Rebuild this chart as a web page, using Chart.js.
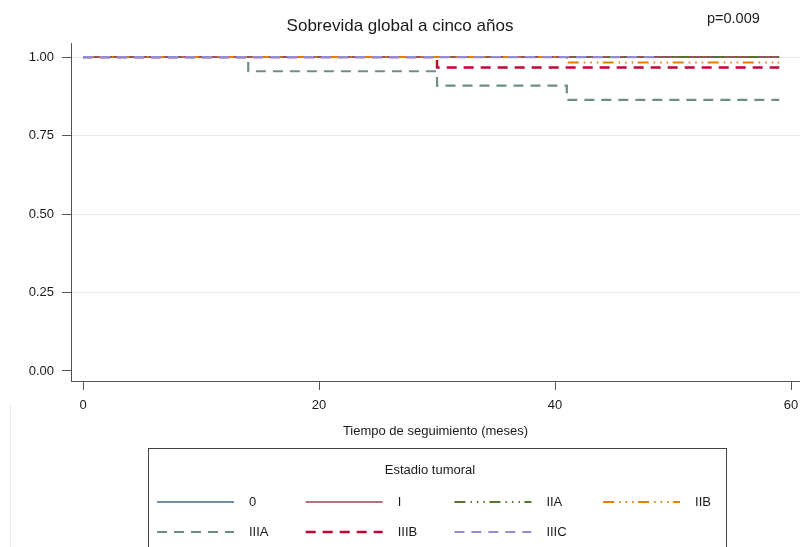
<!DOCTYPE html>
<html>
<head>
<meta charset="utf-8">
<script src="https://cdn.jsdelivr.net/npm/chart.js@4.4.0/dist/chart.umd.min.js"></script>
<style>
html,body{margin:0;padding:0;background:#fff;overflow:hidden}
#wrap{width:800px;height:547px;position:relative}
</style>
</head>
<body>
<div id="wrap"><canvas id="c" width="800" height="547"></canvas></div>
<script>
// ---- data (Kaplan-Meier survival by tumour stage) ----
const groupLabels = ['0', 'I', 'IIA', 'IIB', 'IIIA', 'IIIB', 'IIIC'];
const times0    = [0, 59];             const surv0    = [1, 1];
const timesI    = [0, 59];             const survI    = [1, 1];
const timesIIA  = [0, 59];             const survIIA  = [1, 1];
const timesIIB  = [0, 41, 59];         const survIIB  = [1, 0.983, 0.983];
const timesIIIA = [0, 14, 30, 41, 59]; const survIIIA = [1, 0.955, 0.909, 0.864, 0.864];
const timesIIIB = [0, 30, 59];         const survIIIB = [1, 0.967, 0.967];
const timesIIIC = [0, 49];             const survIIIC = [1, 1];
const xTicks = [0, 20, 40, 60];
const yTicks = [0, 0.25, 0.5, 0.75, 1];
const chartTitle = 'Sobrevida global a cinco años';
const pValueText = 'p=0.009';
const xTitle = 'Tiempo de seguimiento (meses)';
const legendTitle = 'Estadio tumoral';

const FONT = '"Liberation Sans", Arial, Helvetica, sans-serif';
const xy = (t, s) => t.map((v, i) => ({x: v, y: s[i]}));

const dotPat = [11, 5, 1.5, 5, 1.5, 5, 1.5, 4.5];
const dashPat = [10, 7];

const series = [
  {t: times0,    s: surv0,    color: '#3b6793', w: 1.5, dash: []},
  {t: timesI,    s: survI,    color: '#a0444a', w: 1.5, dash: []},
  {t: timesIIA,  s: survIIA,  color: '#55752f', w: 2,   dash: dotPat},
  {t: timesIIB,  s: survIIB,  color: '#e37e00', w: 2,   dash: dotPat},
  {t: timesIIIA, s: survIIIA, color: '#6e8e84', w: 2.2, dash: dashPat},
  {t: timesIIIB, s: survIIIB, color: '#c10534', w: 2.4, dash: dashPat},
  {t: timesIIIC, s: survIIIC, color: '#938dd2', w: 2.2, dash: dashPat}
];

const datasets = series.map((g, i) => ({
  label: groupLabels[i],
  data: xy(g.t, g.s),
  borderColor: g.color,
  backgroundColor: g.color,
  borderWidth: g.w,
  borderDash: g.dash,
  stepped: 'before',
  pointRadius: 0,
  fill: false,
  order: series.length - 1 - i
}));

const decor = {
  id: 'decor',
  afterDraw(chart) {
    const ctx = chart.ctx;
    ctx.save();
    // titles
    ctx.fillStyle = '#1a1a1a';
    ctx.textBaseline = 'alphabetic';
    ctx.textAlign = 'center';
    ctx.font = '17px ' + FONT;
    ctx.fillText(chartTitle, 400, 31);
    ctx.font = '14.5px ' + FONT;
    ctx.textAlign = 'left';
    ctx.fillText(pValueText, 707, 23);
    // faint outer region line
    ctx.strokeStyle = '#e3eeee';
    ctx.lineWidth = 1;
    ctx.beginPath(); ctx.moveTo(10.5, 405); ctx.lineTo(10.5, 547); ctx.stroke();
    // legend box
    ctx.strokeStyle = '#444';
    ctx.lineWidth = 1;
    ctx.strokeRect(148.5, 448.5, 578, 130);
    ctx.fillStyle = '#1a1a1a';
    ctx.font = '13px ' + FONT;
    ctx.textAlign = 'center';
    ctx.textBaseline = 'middle';
    ctx.fillText(legendTitle, 430, 470);
    chart.data.datasets.forEach((ds, i) => {
      const col = i % 4, row = Math.floor(i / 4);
      const x0 = 157 + col * 148.7, y = 502 + row * 30;
      ctx.strokeStyle = ds.borderColor;
      ctx.lineWidth = ds.borderWidth;
      ctx.setLineDash(ds.borderDash || []);
      ctx.beginPath(); ctx.moveTo(x0, y); ctx.lineTo(x0 + 77, y); ctx.stroke();
      ctx.setLineDash([]);
      ctx.textAlign = 'left';
      ctx.fillText(ds.label, x0 + 92, y);
    });
    ctx.restore();
  }
};

new Chart(document.getElementById('c'), {
  type: 'line',
  data: {datasets},
  plugins: [decor],
  options: {
    responsive: false,
    animation: false,
    layout: {padding: {top: 43, right: 0, bottom: 106, left: 0}},
    plugins: {legend: {display: false}, title: {display: false}, tooltip: {enabled: false}},
    scales: {
      x: {
        type: 'linear', min: -1.02, max: 60.76,
        afterBuildTicks: s => { s.ticks = xTicks.map(v => ({value: v})); },
        afterFit: s => { s.height = 60; s.paddingLeft = 0; s.paddingRight = 0; },
        grid: {drawOnChartArea: false, drawTicks: true, tickLength: 9, tickColor: '#555', tickWidth: 1},
        border: {display: true, color: '#555', width: 1},
        ticks: {padding: 8, color: '#1a1a1a', font: {family: FONT, size: 13}, maxRotation: 0, autoSkip: false,
                callback: v => String(v)},
        title: {display: true, text: xTitle, color: '#1a1a1a', font: {family: FONT, size: 13},
                padding: {top: 0, bottom: 2}}
      },
      y: {
        type: 'linear', min: -0.032, max: 1.045,
        afterBuildTicks: s => { s.ticks = yTicks.map(v => ({value: v})); },
        afterFit: s => { s.width = 71; s.paddingTop = 0; s.paddingBottom = 0; },
        grid: {color: c => (c.tick && c.tick.value === 0) ? 'rgba(0,0,0,0)' : '#e2edf0',
               tickColor: '#555', tickLength: 9, lineWidth: 1},
        border: {display: true, color: '#555', width: 1},
        ticks: {padding: 8, color: '#1a1a1a', font: {family: FONT, size: 13},
                callback: v => Number(v).toFixed(2)}
      }
    }
  }
});
</script>
</body>
</html>
